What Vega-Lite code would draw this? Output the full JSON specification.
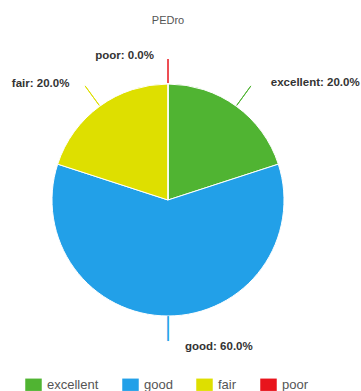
{
  "$schema": "https://vega.github.io/schema/vega-lite/v6.json",
  "width": 336,
  "height": 320,
  "autosize": {"type": "none"},
  "padding": {"left": 0, "top": 40, "right": 25, "bottom": 31},
  "background": "white",
  "title": {"text": "PEDro", "fontSize": 11, "font": "Liberation Sans", "fontWeight": "normal", "color": "#555555", "anchor": "middle", "frame": "group", "offset": 14},
  "data": {"values": [
    {"category": "excellent", "value": 20, "rank": 1, "label": "excellent: 20.0%"},
    {"category": "good", "value": 60, "rank": 2, "label": "good: 60.0%"},
    {"category": "fair", "value": 20, "rank": 3, "label": "fair: 20.0%"},
    {"category": "poor", "value": 0, "rank": 4, "label": "poor: 0.0%"}
  ]},
  "encoding": {
    "theta": {"field": "value", "type": "quantitative", "stack": true},
    "order": {"field": "rank", "type": "quantitative", "sort": "ascending"}
  },
  "layer": [
    {
      "mark": {"type": "arc", "outerRadius": 116, "stroke": "white", "strokeWidth": 1},
      "encoding": {
        "color": {
          "field": "category", "type": "nominal",
          "scale": {"domain": ["excellent", "good", "fair", "poor"], "range": ["#50b432", "#22a0e8", "#dedf00", "#e8141c"]},
          "legend": {
            "title": null, "orient": "none", "direction": "horizontal", "columns": 4,
            "legendX": 25, "legendY": 336,
            "symbolType": "M-1,-0.75H1V0.75H-1Z", "symbolSize": 272, "symbolStrokeWidth": 0,
            "labelFont": "Liberation Sans", "labelFontSize": 13, "labelColor": "#555555",
            "labelOffset": 5, "columnPadding": 23
          }
        }
      }
    },
    {
      "mark": {"type": "arc", "filled": false, "innerRadius": 117, "outerRadius": 141, "padAngle": 3, "strokeWidth": 1},
      "encoding": {
        "stroke": {"field": "category", "type": "nominal", "scale": {"domain": ["excellent", "good", "fair", "poor"], "range": ["#50b432", "#22a0e8", "#dedf00", "#e8141c"]}, "legend": null},
        "strokeOpacity": {"condition": {"test": "datum.category === 'good'", "value": 0}, "value": 1}
      }
    },
    {
      "mark": {"type": "text", "radius": 130, "align": "center", "baseline": "middle", "font": "DejaVu Sans", "fontSize": 21, "color": "#22a0e8"},
      "encoding": {
        "detail": {"field": "category"},
        "text": {"condition": {"test": "datum.category === 'good'", "value": "│"}, "value": ""}
      }
    },
    {
      "mark": {"type": "text", "radius": 146, "align": "left", "baseline": "middle", "dx": 17, "dy": 1, "font": "Liberation Sans", "fontWeight": "bold", "fontSize": 11.5, "color": "#333333"},
      "encoding": {
        "detail": {"field": "category"},
        "text": {"condition": {"test": "datum.category === 'excellent' || datum.category === 'good'", "field": "label"}, "value": ""}
      }
    },
    {
      "mark": {"type": "text", "radius": 144, "align": "right", "baseline": "middle", "dx": -14, "font": "Liberation Sans", "fontWeight": "bold", "fontSize": 11.5, "color": "#333333"},
      "encoding": {
        "detail": {"field": "category"},
        "text": {"condition": {"test": "datum.category === 'fair' || datum.category === 'poor'", "field": "label"}, "value": ""}
      }
    }
  ]
}
